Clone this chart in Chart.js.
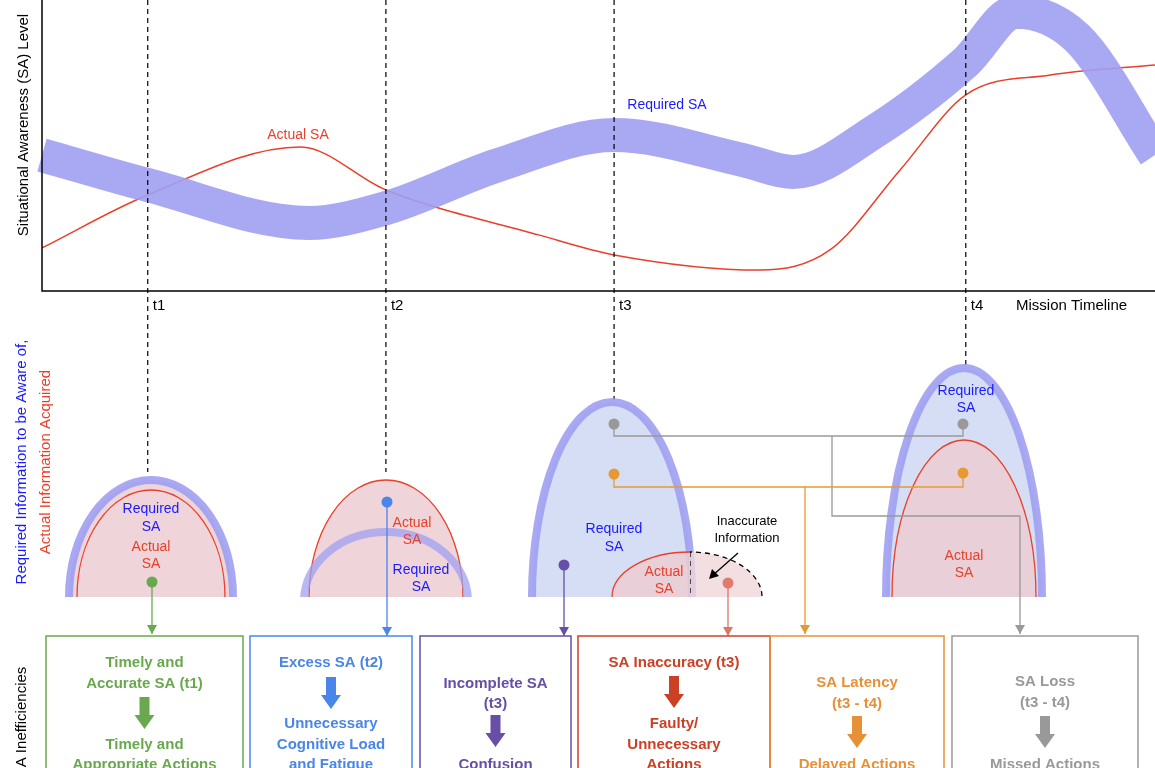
<!DOCTYPE html>
<html>
<head>
<meta charset="utf-8">
<script src="https://cdn.jsdelivr.net/npm/chart.js@4.4.1/dist/chart.umd.min.js"></script>
<style>
  html, body { margin: 0; padding: 0; background: #fff; }
  #wrap { width: 1155px; height: 768px; }
</style>
</head>
<body>
<div id="wrap"><canvas id="sa-chart"></canvas></div>
<script>
// timeline positions (0..100) and SA levels (0..100)
const requiredX = [0, 9.5, 24, 30.9, 41, 51.4, 63, 67.5, 75, 83, 87.5, 93, 100];
const requiredSA = [46.7, 36.4, 23.4, 28.5, 43.3, 53.6, 45, 40.9, 55.3, 78.7, 96, 87, 46.7];
const actualX = [0, 9.5, 23.2, 30.9, 44.7, 51.4, 64.5, 70.8, 77.1, 83, 90.6, 100];
const actualSA = [14.8, 33, 49.5, 34.7, 19.2, 12.4, 7.2, 14.1, 41.6, 67.4, 74.2, 77.7];
const timeMarks = [9.5, 30.9, 51.4, 83];
const timeLabels = ['t1', 't2', 't3', 't4'];
const markEnds = [472, 472, 400, 366];

const FONT = '"Liberation Sans", Arial, sans-serif';
const BLUE = '#1a1aff', RED = '#e8402a';
const BAND = 'rgba(160,160,242,0.9)';

function toPts(xs, ys) { return xs.map((x, i) => ({x: x, y: ys[i]})); }

function text(ctx, s, x, y, color, size, bold) {
    ctx.fillStyle = color;
    ctx.font = (bold ? 'bold ' : '') + size + 'px ' + FONT;
    ctx.textAlign = 'center';
    ctx.textBaseline = 'middle';
    ctx.fillText(s, x, y);
}

function vtext(ctx, s, x, y, color) {
    ctx.save();
    ctx.translate(x, y);
    ctx.rotate(-Math.PI / 2);
    text(ctx, s, 0, 0, color, 15, false);
    ctx.restore();
}

function dome(ctx, cx, base, rx, top, fill, stroke, lw) {
    ctx.beginPath();
    ctx.ellipse(cx, base, rx, base - top, 0, Math.PI, 2 * Math.PI);
    if (fill) { ctx.fillStyle = fill; ctx.fill(); }
    if (stroke) { ctx.strokeStyle = stroke; ctx.lineWidth = lw; ctx.stroke(); }
}

function dot(ctx, x, y, c) {
    ctx.beginPath(); ctx.arc(x, y, 5.5, 0, 2 * Math.PI);
    ctx.fillStyle = c; ctx.fill();
}

function arrowLine(ctx, x, y1, y2, c) {
    ctx.strokeStyle = c; ctx.lineWidth = 1.3;
    ctx.beginPath(); ctx.moveTo(x, y1); ctx.lineTo(x, y2); ctx.stroke();
    ctx.fillStyle = c;
    ctx.beginPath(); ctx.moveTo(x - 5, y2 - 9); ctx.lineTo(x + 5, y2 - 9); ctx.lineTo(x, y2); ctx.fill();
}

function poly(ctx, pts, c) {
    ctx.strokeStyle = c; ctx.lineWidth = 1.3;
    ctx.beginPath();
    pts.forEach((p, i) => i ? ctx.lineTo(p[0], p[1]) : ctx.moveTo(p[0], p[1]));
    ctx.stroke();
}

function blockArrow(ctx, x, y, c) {
    ctx.fillStyle = c;
    ctx.beginPath();
    ctx.moveTo(x - 5, y); ctx.lineTo(x + 5, y); ctx.lineTo(x + 5, y + 18);
    ctx.lineTo(x + 10, y + 18); ctx.lineTo(x, y + 32); ctx.lineTo(x - 10, y + 18);
    ctx.lineTo(x - 5, y + 18); ctx.closePath(); ctx.fill();
}

function box(ctx, x1, x2, c, lines, arrowY) {
    ctx.strokeStyle = c; ctx.lineWidth = 1.5;
    ctx.strokeRect(x1, 636, x2 - x1, 150);
    const cx = (x1 + x2) / 2;
    lines.forEach(l => text(ctx, l[0], cx, l[1], c, 15, true));
    blockArrow(ctx, cx, arrowY, c);
}

const diagram = {
    id: 'diagram',
    afterDraw(chart) {
        const ctx = chart.ctx, a = chart.chartArea, xs = chart.scales.x;
        ctx.save();
        // axes
        ctx.strokeStyle = '#000'; ctx.lineWidth = 1.5;
        ctx.beginPath(); ctx.moveTo(a.left, a.top); ctx.lineTo(a.left, a.bottom); ctx.lineTo(a.right, a.bottom); ctx.stroke();
        vtext(ctx, 'Situational Awareness (SA) Level', 24, 125, '#000');
        ctx.textAlign = 'left';
        ctx.font = '15px ' + FONT; ctx.fillStyle = '#000';
        ctx.textBaseline = 'middle';
        ctx.fillText('Mission Timeline', 1016, 306);
        // time markers
        timeMarks.forEach((t, i) => {
            const px = xs.getPixelForValue(t);
            ctx.setLineDash([5, 4]); ctx.strokeStyle = '#000'; ctx.lineWidth = 1.2;
            ctx.beginPath(); ctx.moveTo(px, 0); ctx.lineTo(px, markEnds[i]); ctx.stroke();
            ctx.setLineDash([]);
            ctx.textAlign = 'left'; ctx.font = '15px ' + FONT; ctx.fillStyle = '#000';
            ctx.fillText(timeLabels[i], px + 5, 306);
        });
        text(ctx, 'Actual SA', 298, 135, RED, 14);
        text(ctx, 'Required SA', 667, 105, BLUE, 14);

        // left labels
        vtext(ctx, 'Required Information to be Aware of,', 22, 462, BLUE);
        vtext(ctx, 'Actual Information Acquired', 46, 462, RED);
        vtext(ctx, 'SA Inefficiencies', 22, 722, '#000');

        const PINK = 'rgba(236,205,210,0.85)', LBLUE = '#d6def5';
        // t1
        dome(ctx, 151, 597, 82, 480, PINK, BAND, 8);
        dome(ctx, 151, 597, 74, 490, null, RED, 1.3);
        text(ctx, 'Required', 151, 509, BLUE, 14); text(ctx, 'SA', 151, 527, BLUE, 14);
        text(ctx, 'Actual', 151, 547, RED, 14); text(ctx, 'SA', 151, 564, RED, 14);
        // t2
        dome(ctx, 386, 597, 77, 480, PINK, RED, 1.3);
        ctx.save();
        ctx.beginPath(); ctx.rect(290, 500, 200, 97); ctx.clip();
        dome(ctx, 386, 601, 82, 532, null, 'rgba(160,160,242,0.75)', 8);
        ctx.restore();
        text(ctx, 'Actual', 412, 523, RED, 14); text(ctx, 'SA', 412, 540, RED, 14);
        text(ctx, 'Required', 421, 570, BLUE, 14); text(ctx, 'SA', 421, 587, BLUE, 14);
        // t3
        dome(ctx, 612, 597, 80, 402, LBLUE, BAND, 8);
        ctx.save();
        ctx.beginPath(); ctx.rect(600, 540, 90, 57); ctx.clip();
        dome(ctx, 690, 597, 78, 552, PINK, RED, 1.3);
        ctx.restore();
        ctx.save();
        ctx.beginPath(); ctx.rect(690, 540, 90, 57); ctx.clip();
        ctx.setLineDash([5, 4]);
        dome(ctx, 690, 597, 72, 552, 'rgba(240,215,218,0.8)', '#000', 1.3);
        ctx.beginPath(); ctx.moveTo(690, 552); ctx.lineTo(690, 597); ctx.stroke();
        ctx.restore();
        text(ctx, 'Required', 614, 529, BLUE, 14); text(ctx, 'SA', 614, 547, BLUE, 14);
        text(ctx, 'Actual', 664, 572, RED, 14); text(ctx, 'SA', 664, 589, RED, 14);
        text(ctx, 'Inaccurate', 747, 521, '#000', 13); text(ctx, 'Information', 747, 538, '#000', 13);
        ctx.strokeStyle = '#000'; ctx.lineWidth = 1.3;
        ctx.beginPath(); ctx.moveTo(738, 553); ctx.lineTo(712, 576); ctx.stroke();
        ctx.fillStyle = '#000';
        ctx.beginPath(); ctx.moveTo(709, 579); ctx.lineTo(712, 569); ctx.lineTo(719, 576); ctx.fill();
        // t4
        dome(ctx, 964, 597, 78, 368, LBLUE, BAND, 8);
        dome(ctx, 964, 597, 72, 440, PINK, RED, 1.3);
        text(ctx, 'Required', 966, 391, BLUE, 14); text(ctx, 'SA', 966, 408, BLUE, 14);
        text(ctx, 'Actual', 964, 556, RED, 14); text(ctx, 'SA', 964, 573, RED, 14);

        // connectors
        const GRAY = '#999', ORANGE = '#e69a33';
        poly(ctx, [[614, 424], [614, 436], [963, 436], [963, 424]], GRAY);
        poly(ctx, [[832, 436], [832, 516], [1020, 516]], GRAY);
        arrowLine(ctx, 1020, 516, 634, GRAY);
        poly(ctx, [[614, 474], [614, 487], [963, 487], [963, 474]], ORANGE);
        arrowLine(ctx, 805, 487, 634, ORANGE);
        dot(ctx, 614, 424, GRAY); dot(ctx, 963, 424, GRAY);
        dot(ctx, 614, 474, ORANGE); dot(ctx, 963, 473, ORANGE);
        arrowLine(ctx, 152, 582, 634, '#6aa84f'); dot(ctx, 152, 582, '#6aa84f');
        arrowLine(ctx, 387, 502, 636, '#4a86e8'); dot(ctx, 387, 502, '#4a86e8');
        arrowLine(ctx, 564, 565, 636, '#674ea7'); dot(ctx, 564, 565, '#674ea7');
        arrowLine(ctx, 728, 583, 636, '#d9776a'); dot(ctx, 728, 583, '#e07b6f');

        // boxes
        box(ctx, 46, 243, '#6aa84f', [['Timely and', 663], ['Accurate SA (t1)', 684], ['Timely and', 745], ['Appropriate Actions', 765]], 697);
        box(ctx, 250, 412, '#4a86e8', [['Excess SA (t2)', 663], ['Unnecessary', 724], ['Cognitive Load', 745], ['and Fatigue', 765]], 677);
        box(ctx, 420, 571, '#674ea7', [['Incomplete SA', 684], ['(t3)', 704], ['Confusion', 765]], 715);
        box(ctx, 578, 770, '#cc4125', [['SA Inaccuracy (t3)', 663], ['Faulty/', 724], ['Unnecessary', 745], ['Actions', 765]], 676);
        box(ctx, 770, 944, '#e69138', [['SA Latency', 683], ['(t3 - t4)', 704], ['Delayed Actions', 765]], 716);
        box(ctx, 952, 1138, '#999999', [['SA Loss', 682], ['(t3 - t4)', 703], ['Missed Actions', 765]], 716);
        ctx.restore();
    }
};

new Chart(document.getElementById('sa-chart'), {
    type: 'line',
    data: {
        datasets: [{
            label: 'Required SA',
            data: toPts(requiredX, requiredSA),
            borderColor: BAND,
            borderWidth: 34,
            borderCapStyle: 'butt',
            pointRadius: 0,
            cubicInterpolationMode: 'monotone',
            clip: false
        }, {
            label: 'Actual SA',
            data: toPts(actualX, actualSA),
            borderColor: RED,
            borderWidth: 1.5,
            pointRadius: 0,
            cubicInterpolationMode: 'monotone'
        }]
    },
    options: {
        responsive: true,
        maintainAspectRatio: false,
        animation: false,
        layout: { padding: { left: 42, right: 0, top: 0, bottom: 477 } },
        scales: {
            x: { type: 'linear', min: 0, max: 100, display: false },
            y: { min: 0, max: 100, display: false }
        },
        plugins: { legend: { display: false }, tooltip: { enabled: false } }
    },
    plugins: [diagram]
});
</script>
</body>
</html>
